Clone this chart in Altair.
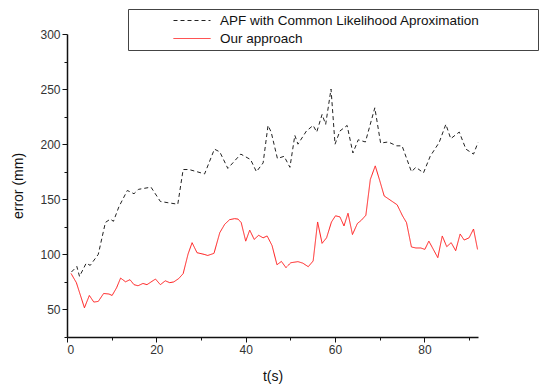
import altair as alt
import pandas as pd

series_names = ["APF with Common Likelihood Aproximation", "Our approach"]

apf_t = [1, 2.2, 2.8, 4.3, 5.2, 7, 8.6, 9.7, 10.4, 11.6, 13.5, 15, 16, 18.8, 20.9, 22.4,
         24.8, 26, 27.3, 29.1, 30.8, 33, 34.2, 36, 38.9, 41.1, 42.4, 43.9, 45, 45.7, 47.1,
         48.6, 49.9, 51, 51.7, 53.6, 55.1, 55.9, 57.1, 57.9, 59.1, 60, 61.1, 62.7, 64, 65.2,
         66.8, 68.9, 70.2, 71.9, 73.8, 75, 77.1, 78.1, 79.8, 81.3, 83.3, 84.8, 85.9, 87.8,
         89.3, 91, 92]
apf_err = [84, 89, 80, 92, 90, 100, 129, 132, 130, 143, 158, 155, 159, 161, 148, 147,
           145.5, 177, 177, 175, 173, 195.5, 193, 178, 191, 186, 175, 183, 217, 211, 187,
           189, 179, 208, 200, 212, 217, 211, 227, 218, 250, 200, 212, 217, 192, 204,
           202, 233, 201, 202, 198.5, 198.5, 175, 179, 174, 189, 201.5, 218, 205, 211,
           195.5, 191, 201.5]

our_t = [0.9, 2.1, 3.9, 5, 6, 7, 8.2, 9.4, 10.1, 11.1, 12, 13.1, 14.1, 15, 15.9, 17, 17.9,
         19.8, 20.9, 22, 23, 23.9, 25, 26, 27.1, 28, 29.1, 30.7, 31.5, 32.9, 34.2, 35.3,
         36.4, 37.5, 38.3, 39, 40, 40.9, 41.9, 42.9, 43.9, 44.8, 45.9, 47, 48, 49, 50.1,
         51.7, 52.8, 54, 55.1, 56.1, 57.1, 58.1, 59.2, 60.1, 61.1, 62, 62.9, 63.9, 65,
         65.9, 66.9, 67.9, 69, 70, 71, 72.3, 73.9, 75.1, 76, 77.1, 78.1, 79.2, 80.1, 81,
         82, 83, 84, 85, 86, 87, 88, 88.9, 90, 91, 91.9]
our_err = [82.7, 74.3, 51.5, 62.7, 56.7, 57.3, 64.5, 64, 62.7, 69.7, 78.5, 75.1, 77, 72.5,
           71.5, 73.6, 72.5, 77.6, 72.5, 76, 74.3, 75, 78, 82.5, 100.3, 110.6, 101.5, 100,
           99, 100.9, 119.7, 127.3, 131.5, 132.4, 132, 128.8, 112, 122, 113.6, 117.3, 115,
           116.7, 108, 90.6, 93.6, 88, 92.4, 93.4, 92, 88.8, 94, 129.4, 110, 115, 129.4,
           135, 134, 125.8, 137.3, 118, 128, 131, 135.5, 168, 180.3, 167, 153, 149.4, 145,
           135, 128.8, 106.7, 105.8, 105.8, 104.5, 112, 104.5, 97, 116.7, 107, 110.6,
           103.3, 118.5, 113, 115, 123, 104.5]

x_ticks = [0, 10, 20, 30, 40, 50, 60, 70, 80, 90]
y_ticks = [25, 50, 75, 100, 125, 150, 175, 200, 225, 250, 275, 300]

df = pd.concat([
    pd.DataFrame({"t": apf_t, "err": apf_err, "series": series_names[0], "order": range(len(apf_t))}),
    pd.DataFrame({"t": our_t, "err": our_err, "series": series_names[1], "order": range(len(our_t))}),
])

FONT = "Liberation Sans"
# invisible trailing room so the legend frame extends to the right as in the reference
pad_expr = "datum.label + '" + ("\\u2002" * 8) + "\\u200b'"

chart = alt.Chart(df).mark_line(strokeWidth=1).encode(
    x=alt.X("t:Q", title="t(s)",
            scale=alt.Scale(domain=[0, 92], nice=False, zero=False),
            axis=alt.Axis(values=x_ticks, grid=False,
                          labelExpr="datum.value % 20 === 0 ? datum.label : ''",
                          tickSize={"condition": {"test": "datum.value % 20 === 0", "value": 5}, "value": 3},
                          titlePadding=14)),
    y=alt.Y("err:Q", title="error (mm)",
            scale=alt.Scale(domain=[25, 300], nice=False, zero=False),
            axis=alt.Axis(values=y_ticks, grid=False,
                          labelExpr="datum.value % 50 === 0 ? datum.label : ''",
                          tickSize={"condition": {"test": "datum.value % 50 === 0", "value": 5}, "value": 3},
                          titlePadding=14)),
    color=alt.Color("series:N",
                    scale=alt.Scale(domain=series_names, range=["#222222", "#ff1a1a"]),
                    legend=alt.Legend(title=None, orient="none", legendX=61, legendY=-25,
                                      symbolType="stroke", symbolSize=1369, symbolStrokeWidth=1,
                                      symbolOffset=41, labelOffset=9, padding=4, rowPadding=3,
                                      clipHeight=15,
                                      labelFont=FONT, labelFontSize=13.5, labelColor="#111",
                                      labelLimit=600, strokeColor="#444", fillColor="white",
                                      labelExpr=pad_expr)),
    strokeDash=alt.StrokeDash("series:N",
                              scale=alt.Scale(domain=series_names, range=[[4, 3], [1, 0]]),
                              legend=None),
    order="order:Q",
).properties(
    width=411, height=303,
    padding={"left": 3, "top": 0, "right": 5, "bottom": 5},
).configure_view(stroke=None).configure_axis(
    domainColor="#111", domainWidth=1.5, tickColor="#111", tickWidth=1,
    labelFont=FONT, labelFontSize=12, labelColor="#333", labelPadding=2,
    titleFont=FONT, titleFontSize=14, titleFontWeight="normal", titleColor="#111",
)

chart.save("out.html", embed_options={"renderer": "svg", "actions": False})
